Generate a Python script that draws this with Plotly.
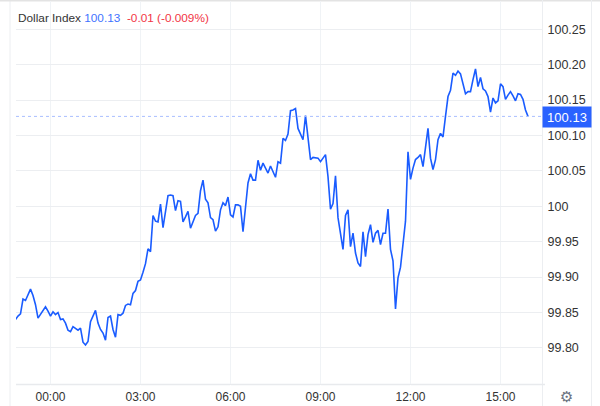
import pandas as pd
import plotly.graph_objects as go

START = "2024-01-01 22:50"
STEP = "5min"
VALUES = [
 99.840,99.845,99.848,99.869,99.867,99.875,99.883,99.874,99.861,99.842,
 99.848,99.853,99.858,99.852,99.845,99.851,99.847,99.850,99.840,99.841,
 99.835,99.825,99.823,99.830,99.827,99.825,99.828,99.808,99.804,99.809,
 99.837,99.844,99.853,99.835,99.826,99.821,99.811,99.843,99.845,99.826,
 99.815,99.847,99.846,99.849,99.860,99.862,99.861,99.877,99.881,99.894,
 99.896,99.907,99.919,99.940,99.936,99.987,99.979,99.978,100.003,99.970,
 99.992,100.015,100.016,100.015,99.994,100.008,100.007,99.978,99.985,99.993,
 99.969,99.978,99.987,99.990,100.022,100.037,100.010,100.005,99.984,99.981,
 99.965,99.971,99.995,100.005,100.001,100.013,99.988,99.985,100.002,100.002,
 100.000,99.964,100.002,100.033,100.046,100.037,100.037,100.065,100.051,100.061,
 100.054,100.047,100.057,100.050,100.041,100.063,100.061,100.096,100.093,100.102,
 100.135,100.136,100.138,100.110,100.101,100.094,100.128,100.096,100.066,100.069,
 100.069,100.068,100.063,100.069,100.073,100.042,99.996,100.004,100.043,99.984,
 99.960,99.939,99.987,99.995,99.943,99.962,99.934,99.920,99.915,99.964,
 99.929,99.960,99.974,99.949,99.962,99.966,99.946,99.962,99.962,99.996,
 99.939,99.923,99.855,99.899,99.914,99.948,99.979,100.077,100.038,100.054,
 100.066,100.069,100.073,100.056,100.084,100.110,100.068,100.052,100.066,100.094,
 100.103,100.098,100.127,100.155,100.164,100.188,100.185,100.191,100.187,100.172,
 100.159,100.162,100.162,100.179,100.194,100.169,100.182,100.166,100.163,100.155,
 100.133,100.153,100.146,100.149,100.173,100.169,100.151,100.157,100.162,100.156,
 100.149,100.159,100.158,100.151,100.136,100.127,
]
Y_TICKS = [99.80, 99.85, 99.90, 99.95, 100.00, 100.05, 100.10, 100.15, 100.20, 100.25]
Y_LABELS = ["99.80", "99.85", "99.90", "99.95", "100", "100.05", "100.10", "100.15", "100.20", "100.25"]
X_TICKS = ["2024-01-02 00:00", "2024-01-02 03:00", "2024-01-02 06:00",
           "2024-01-02 09:00", "2024-01-02 12:00", "2024-01-02 15:00"]
X_LABELS = ["00:00", "03:00", "06:00", "09:00", "12:00", "15:00"]
TITLE = "Dollar Index"
LAST = "100.13"
CHANGE = "-0.01 (-0.009%)"

BLUE = "#1a5cff"
FONT = "Liberation Sans, Arial, sans-serif"
W, H = 600, 406
L, R, T, B = 16, 58, 1, 22
pw, ph = W - L - R, H - T - B
px = lambda x: (x - L) / pw
py = lambda y: 1 - (y - T) / ph

times = pd.date_range(START, periods=len(VALUES), freq=STEP)

fig = go.Figure(go.Scatter(x=times, y=VALUES, mode="lines",
                           line=dict(color=BLUE, width=1.6), hoverinfo="skip"))

def frame(x0, y0, x1, y1, color, width=1):
    return dict(type="line", xref="paper", yref="paper", x0=px(x0), x1=px(x1),
                y0=py(y0), y1=py(y1), line=dict(color=color, width=width), layer="below")

shapes = [
    frame(10, 0, 10, 406, "#eceef1"),
    frame(0, 0.5, 600, 0.5, "#e3e3e3", 2),
    frame(542.5, 0, 542.5, 406, "#eceef1"),
    frame(591.5, 0, 591.5, 406, "#eceef1"),
    frame(16, 384.5, 545, 384.5, "#e8eaed", 1.5),
    dict(type="line", xref="paper", yref="y", x0=0, x1=1, y0=VALUES[-1], y1=VALUES[-1],
         line=dict(color="#a9bfff", width=1, dash="dot"), layer="above"),
]

annotations = [
    dict(xref="paper", yref="paper", x=px(16), y=py(18), xanchor="left", yanchor="middle",
         showarrow=False, align="left", font=dict(family=FONT, size=11.8, color="#333333"),
         text=f"{TITLE} <span style='color:#3f74ff'>{LAST}</span>&nbsp;&nbsp;"
              f"<span style='color:#f23645'>{CHANGE}</span>"),
    dict(xref="paper", yref="y", x=px(566.5), y=VALUES[-1], yshift=-1, xanchor="center", yanchor="middle",
         showarrow=False, text=LAST, bgcolor="#2a62ff", width=46, height=18,
         font=dict(family=FONT, size=13, color="#ffffff")),
    dict(xref="paper", yref="paper", x=px(566.5), y=py(397), xanchor="center", yanchor="middle",
         showarrow=False, text="⚙", height=14, borderpad=0,
         font=dict(family="DejaVu Sans", size=15, color="#6b7280")),
]

fig.update_layout(
    width=W, height=H, margin=dict(l=L, r=R, t=T, b=B, autoexpand=False),
    paper_bgcolor="#ffffff", plot_bgcolor="#ffffff", showlegend=False,
    font=dict(family=FONT, size=12, color="#333333"),
    shapes=shapes, annotations=annotations,
    xaxis=dict(type="date", range=["2024-01-01 22:51", "2024-01-02 16:23"],
               tickmode="array", tickvals=X_TICKS, ticktext=X_LABELS,
               showgrid=True, gridcolor="#f0f3f6", gridwidth=1, zeroline=False,
               showline=False, ticks="outside", ticklen=2, tickcolor="#ffffff",
               tickfont=dict(size=12, color="#333333")),
    yaxis=dict(side="right", range=[99.749, 100.290], tickmode="array",
               tickvals=Y_TICKS, ticktext=Y_LABELS,
               showgrid=True, gridcolor="#eceef1", gridwidth=1, zeroline=False,
               showline=False, ticks="outside", ticklen=2, tickcolor="#ffffff",
               tickfont=dict(size=12.5, color="#333333")),
)

fig.write_html("out.html", config=dict(displayModeBar=False),
               post_script="document.body.style.margin='0';document.documentElement.style.overflow='hidden';")
